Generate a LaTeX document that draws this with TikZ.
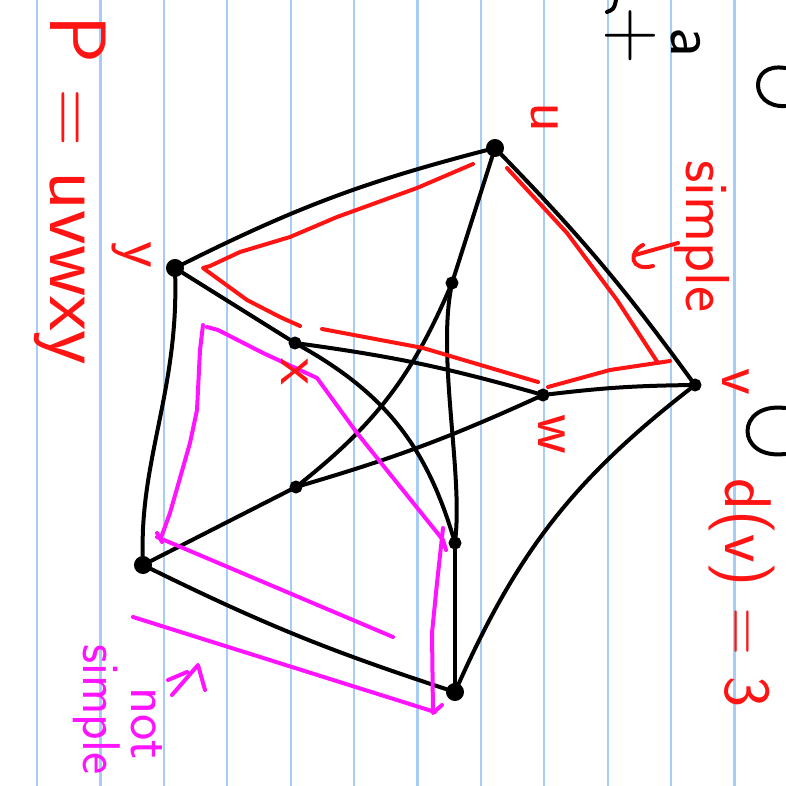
\documentclass[tikz,border=0pt]{standalone}
\usepackage{tikz}
\usetikzlibrary{positioning}
\definecolor{penred}{HTML}{FF1414}
\definecolor{penpink}{HTML}{FF14FF}
\definecolor{paperline}{HTML}{A8CDF5}

\begin{document}
\begin{tikzpicture}[
    x=1pt, y=-1pt,
    line cap=round, line join=round,
    font=\sffamily,
    vtx/.style={circle, draw=black, fill=black, line width=2pt,
                inner sep=0pt, minimum size=16pt},
    dot/.style={circle, draw=black, fill=black, line width=2pt,
                inner sep=0pt, minimum size=11pt},
    edge/.style={draw=black, line width=4pt},
    redpen/.style={draw=penred, line width=4pt},
    pinkpen/.style={draw=penpink, line width=4pt},
    rednote/.style={rotate=-90, inner sep=0pt, text=penred},
    pinknote/.style={rotate=-90, inner sep=0pt, text=penpink},
    blacknote/.style={rotate=-90, inner sep=0pt, text=black}
]
  \useasboundingbox (0,0) rectangle (785,786);
  \fill[white] (0,0) rectangle (785,786);

  % ruled paper
  \foreach \k in {0,...,11}
    \draw[paperline, line width=2.2pt] ({37+63.4*\k},0) -- ++(0,786);

  % Petersen graph: outer cycle u v e d y, inner t r x w m
  \node[vtx] (u) at (495,148) {};
  \node[vtx] (y) at (175,268) {};
  \node[dot] (v) at (695,385) {};
  \node[dot] (w) at (543,395) {};
  \node[dot] (x) at (295,343) {};
  \node[dot] (t) at (452,283) {};
  \node[dot] (m) at (296,487) {};
  \node[dot] (r) at (455,543) {};
  \node[vtx] (d) at (143,565) {};
  \node[vtx] (e) at (455,692) {};

  \draw[edge] (u) to[bend right=6] (y);
  \draw[edge] (u) to[bend left=4] (v);
  \draw[edge] (u) -- (t);
  \draw[edge] (y) -- (x);
  \draw[edge] (y) .. controls (178,390) and (140,460) .. (d);
  \draw[edge] (x) to[bend left=4] (w);
  \draw[edge] (x) to[bend left=22] (r);
  \draw[edge] (t) to[bend left=14] (m);
  \draw[edge] (t) .. controls (438,360) and (462,470) .. (r);
  \draw[edge] (m) to[bend right=4] (w);
  \draw[edge] (m) -- (d);
  \draw[edge] (r) -- (e);
  \draw[edge] (d) to[bend right=4] (e);
  \draw[edge] (v) to[bend right=3] (w);
  \draw[edge] (e) to[bend left=14] (v);

  % red walk beside the edges
  \draw[redpen] (473,164) -- (417,188) -- (337,217) -- (290,237)
                -- (240,252) -- (210,266) -- (203,268) -- (247,300)
                -- (280,317) -- (300,326);
  \draw[redpen] (322,329) -- (423,348) -- (538,382);
  \draw[redpen] (548,387) -- (610,370) -- (670,361);
  \draw[redpen] (507,168) -- (567,233) -- (617,300) -- (658,363);
  \draw[redpen] (678,243) -- (635,255);
  \draw[redpen] (643,245) .. controls (628,252) and (630,272) .. (653,266);

  % magenta walk
  \draw[pinkpen] (207,327) -- (218,330) -- (263,353) -- (317,378)
                 -- (357,433) -- (443,540) -- (446,550);
  \draw[pinkpen] (443,528) -- (437,583) -- (432,633) -- (433,713) -- (442,705);
  \draw[pinkpen] (133,617) -- (435,712);
  \draw[pinkpen] (157,533) -- (162,542);
  \draw[pinkpen] (157,537) -- (393,637);
  \draw[pinkpen] (203,325) -- (200,350) -- (197,410) -- (190,443)
                 -- (170,513) -- (162,535);
  \draw[pinkpen] (172,695) -- (198,665) -- (205,690);
  \draw[pinkpen] (168,680) -- (187,672);

  % vertex labels
  \node[rednote, font=\sffamily\fontsize{62}{62}\selectfont] (lu) at (545,118) {u};
  \node[rednote, font=\sffamily\fontsize{62}{62}\selectfont] (ly) at (132,255) {y};
  \node[rednote, font=\sffamily\fontsize{62}{62}\selectfont] (lx) at (295,372) {x};
  \node[rednote, font=\sffamily\fontsize{62}{62}\selectfont] (lw) at (552,434) {w};
  \node[rednote, font=\sffamily\fontsize{62}{62}\selectfont] (lv) at (736,382) {v};

  % notes
  \node[rednote, anchor=west, font=\sffamily\fontsize{80}{80}\selectfont]
       (path) at (70,15) {P = uvwxy};
  \node[rednote, anchor=west, font=\sffamily\fontsize{62}{62}\selectfont]
       (simple) at (702,160) {simple};
  \node[rednote, anchor=west, font=\sffamily\fontsize{66}{66}\selectfont]
       (deg) at (742,478) {d(v) = 3};
  \node[pinknote, anchor=west, font=\sffamily\fontsize{56}{56}\selectfont]
       (nt) at (147,687) {not};
  \node[pinknote, anchor=west, font=\sffamily\fontsize{53}{53}\selectfont]
       (nsimple) at (97,644) {simple};

  % cut-off black writing
  \node[blacknote, font=\sffamily\fontsize{80}{80}\selectfont] (plus) at (630,36) {+};
  \node[blacknote, font=\sffamily\fontsize{66}{66}\selectfont] (aa) at (686,42) {a};
  \draw[line width=4pt] (607,12) .. controls (614,9) .. (616,0);
  \draw[line width=4pt] (785,68) .. controls (748,62) and (750,108) .. (785,106);
  \draw[line width=4pt] (785,408) .. controls (735,402) and (735,460) .. (785,454);
\end{tikzpicture}
\end{document}
